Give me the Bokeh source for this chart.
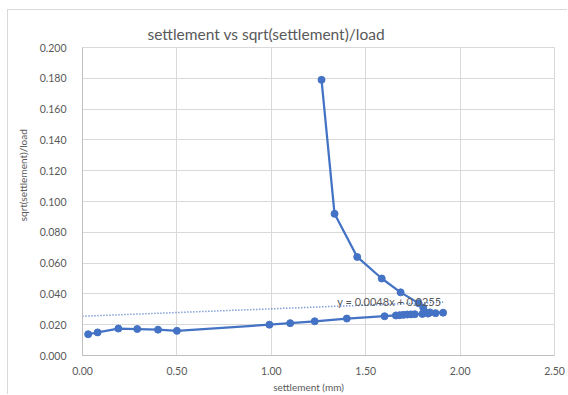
import numpy as np
from bokeh.plotting import figure
from bokeh.models import Range1d, FixedTicker, NumeralTickFormatter, Label, ColumnDataSource
from bokeh.embed import file_html
from bokeh.resources import INLINE

# data
settlement = [0.03, 0.08, 0.19, 0.29, 0.40, 0.50, 0.99, 1.10, 1.23, 1.40, 1.60,
              1.66, 1.68, 1.70, 1.72, 1.74, 1.76, 1.80, 1.83, 1.87, 1.91,
              1.84, 1.805, 1.78, 1.685, 1.585, 1.455, 1.335, 1.266]
ratio = [0.0138, 0.0150, 0.0175, 0.0172, 0.0168, 0.0160, 0.0200, 0.0210, 0.0222, 0.0240, 0.0255,
         0.0260, 0.0262, 0.0264, 0.0266, 0.0267, 0.0268, 0.0270, 0.0272, 0.0275, 0.0278,
         0.0280, 0.0310, 0.0340, 0.0410, 0.0500, 0.0640, 0.0920, 0.1790]
trend_slope = 0.0048
trend_intercept = 0.0255
trend_x = [0.0, 1.91]
x_ticks = [0.0, 0.5, 1.0, 1.5, 2.0, 2.5]
y_ticks = [0.0, 0.02, 0.04, 0.06, 0.08, 0.10, 0.12, 0.14, 0.16, 0.18, 0.20]
title_text = "settlement vs sqrt(settlement)/load"
x_label = "settlement (mm)"
y_label = "sqrt(settlement)/load"
trend_label = "y = 0.0048x + 0.0255"

FONT = "Lato"
GRAY = "#595959"
BLUE = "#4472C4"

p = figure(width=560, height=385, output_backend="svg", toolbar_location=None,
           x_range=Range1d(0, 2.5), y_range=Range1d(0, 0.2),
           min_border_left=74, min_border_right=14, min_border_top=37, min_border_bottom=40,
           title=title_text)
p.styles = {"margin-left": "7px", "margin-top": "9px",
            "border-left": "1px solid #d9d9d9", "border-top": "1px solid #d9d9d9"}
p.background_fill_color = "white"
p.border_fill_color = "white"
p.outline_line_color = "#d9d9d9"

p.title.align = "left"
p.title.offset = 65
p.title.text_color = GRAY
p.title.text_font = FONT
p.title.text_font_style = "normal"
p.title.text_font_size = "15.5px"
p.title.standoff = 10
p.title.text_line_height = 0.6

for ax in (p.xaxis, p.yaxis):
    ax.major_tick_line_color = None
    ax.minor_tick_line_color = None
    ax.axis_line_color = "#bfbfbf"
    ax.major_label_text_color = GRAY
    ax.major_label_text_font = FONT
    ax.major_label_text_font_size = "10.5px"
    ax.axis_label_text_color = GRAY
    ax.axis_label_text_font = FONT
    ax.axis_label_text_font_style = "normal"
    ax.axis_label_text_font_size = "10px"
p.xaxis.ticker = FixedTicker(ticks=x_ticks)
p.yaxis.ticker = FixedTicker(ticks=y_ticks)
p.xaxis.formatter = NumeralTickFormatter(format="0.00")
p.yaxis.formatter = NumeralTickFormatter(format="0.000")
p.xaxis.major_label_standoff = 5
p.yaxis.major_label_standoff = 10
p.xaxis.axis_label = x_label + "\u2003\u2003\u2002"
p.yaxis.axis_label = "\u2003\u2003\u2003\u2003\u2003\u2003\u2003" + y_label
p.xaxis.axis_label_standoff = 3
p.yaxis.axis_label_standoff = 8
p.grid.grid_line_color = "#d9d9d9"
p.grid.grid_line_width = 1

# trendline
tx = np.array(trend_x)
p.line(tx, trend_slope * tx + trend_intercept, line_color=BLUE, line_width=1.5, line_dash="1 2")

src = ColumnDataSource(dict(x=settlement, y=ratio))
p.line("x", "y", source=src, line_color=BLUE, line_width=2.25)
p.scatter("x", "y", source=src, size=7, fill_color=BLUE, line_color=BLUE)

p.add_layout(Label(x=1.625, y=0.0350, text=trend_label, text_color=GRAY, text_font=FONT,
                   text_font_size="11px", text_align="center", text_baseline="middle"))

open("out.html", "w").write(file_html(p, INLINE))
